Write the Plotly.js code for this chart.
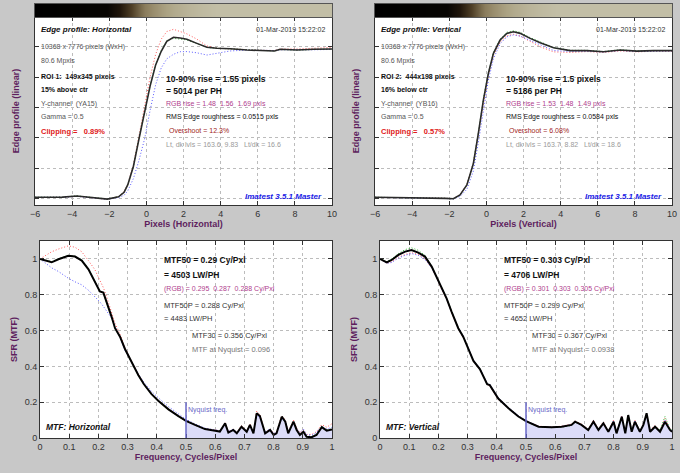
<!DOCTYPE html>
<html><head><meta charset="utf-8">
<script src="https://cdn.plot.ly/plotly-3.0.1.min.js"></script>
<style>html,body{margin:0;padding:0;background:#c8c8c8;}#chart{width:680px;height:473px;}</style>
</head><body><div id="chart"></div>
<script>
// ---------- Edge profile: Horizontal ----------
const edgeXH = [-6, -5, -4.5, -3.75, -3, -2.5, -2.1, -1.5, -1.2, -1.0, -0.7, -0.4, -0.1, 0.2, 0.5, 0.8, 1.1, 1.46, 1.82, 2.18, 2.72, 3.26, 3.8, 4.52, 5.42, 6.31, 6.9, 7.21, 8.11, 9.01, 10];
const edgeYH = [0.007, 0.006, 0.008, 0.015, 0.006, 0.0, -0.005, 0.01, 0.04, 0.09, 0.21, 0.39, 0.57, 0.74, 0.88, 0.97, 1.035, 1.062, 1.057, 1.049, 1.022, 0.996, 0.99, 0.987, 0.978, 0.974, 0.972, 0.983, 0.978, 0.983, 0.985];
const edgeRH = [0.005, 0.006, 0.007, 0.014, 0.005, 0.0, -0.006, 0.012, 0.045, 0.095, 0.22, 0.41, 0.61, 0.80, 0.95, 1.05, 1.10, 1.115, 1.10, 1.085, 1.05, 1.005, 0.99, 0.985, 0.98, 0.976, 0.975, 0.985, 0.985, 0.99, 0.995];
const edgeGH = [0.007, 0.006, 0.008, 0.016, 0.006, 0.001, -0.004, 0.012, 0.042, 0.092, 0.21, 0.395, 0.575, 0.745, 0.885, 0.975, 1.04, 1.055, 1.05, 1.045, 1.02, 0.995, 0.99, 0.986, 0.978, 0.973, 0.972, 0.982, 0.977, 0.982, 0.985];
const edgeBH = [0.006, 0.005, 0.007, 0.013, 0.005, -0.002, -0.006, 0.005, 0.02, 0.05, 0.13, 0.25, 0.39, 0.58, 0.75, 0.86, 0.92, 0.95, 0.967, 0.968, 0.96, 0.945, 0.956, 0.972, 0.978, 0.976, 0.975, 0.98, 0.978, 0.98, 0.982];

// ---------- Edge profile: Vertical ----------
const edgeXV = [-6, -5, -4, -3.2, -2.67, -2.2, -1.78, -1.42, -1.05, -0.7, -0.43, -0.16, 0.11, 0.38, 0.74, 1.1, 1.46, 1.82, 2.36, 2.9, 3.62, 4.52, 5.42, 6.31, 7.21, 8.11, 9.0, 10];
const edgeYV = [0.007, 0.006, 0.006, 0.004, 0.002, 0.0, -0.003, 0.022, 0.088, 0.23, 0.43, 0.65, 0.825, 0.956, 1.044, 1.088, 1.099, 1.088, 1.055, 1.026, 0.993, 0.974, 0.974, 0.967, 0.978, 0.971, 0.974, 0.974];
const edgeRV = [0.006, 0.006, 0.005, 0.004, 0.002, 0.0, -0.002, 0.025, 0.09, 0.235, 0.43, 0.645, 0.815, 0.945, 1.03, 1.072, 1.082, 1.07, 1.035, 1.0, 0.966, 0.962, 0.968, 0.962, 0.972, 0.966, 0.97, 0.97];
const edgeGV = [0.007, 0.006, 0.006, 0.004, 0.002, 0.0, -0.003, 0.022, 0.088, 0.232, 0.435, 0.655, 0.83, 0.96, 1.05, 1.095, 1.105, 1.095, 1.06, 1.03, 0.995, 0.976, 0.976, 0.968, 0.98, 0.972, 0.975, 0.975];
const edgeBV = [0.006, 0.005, 0.005, 0.003, 0.001, -0.001, -0.004, 0.012, 0.06, 0.18, 0.37, 0.58, 0.78, 0.92, 1.02, 1.065, 1.078, 1.07, 1.04, 1.01, 0.975, 0.968, 0.97, 0.965, 0.975, 0.968, 0.972, 0.972];

// ---------- Edge image strip (brightness across the edge) ----------
const stripX = [-6, -2.1, -1.5, -0.9, -0.3, 0.3, 0.9, 1.5, 2.2, 3.0, 3.8, 10];
const stripLevel = [0, 0.03, 0.12, 0.28, 0.45, 0.6, 0.72, 0.82, 0.9, 0.96, 1, 1];

// ---------- MTF: Horizontal ----------
const freqH = [0, 0.029, 0.04, 0.063, 0.097, 0.12, 0.143, 0.166, 0.188, 0.205, 0.217, 0.228, 0.245, 0.257, 0.274, 0.291, 0.314, 0.337, 0.356, 0.382, 0.405, 0.44, 0.474, 0.5, 0.531, 0.565, 0.6, 0.616, 0.634, 0.645, 0.662, 0.674, 0.69, 0.708, 0.719, 0.731, 0.742, 0.753, 0.771, 0.788, 0.8, 0.81, 0.828, 0.84, 0.85, 0.868, 0.879, 0.89, 0.902, 0.913, 0.93, 0.947, 0.965, 0.982, 1.0];
const mtfYH = [1.0, 0.985, 0.981, 0.998, 1.017, 1.013, 0.991, 0.942, 0.873, 0.818, 0.812, 0.762, 0.678, 0.613, 0.566, 0.497, 0.42, 0.35, 0.30, 0.245, 0.208, 0.16, 0.122, 0.096, 0.073, 0.05, 0.041, 0.036, 0.082, 0.03, 0.045, 0.026, 0.063, 0.035, 0.073, 0.026, 0.138, 0.123, 0.026, 0.045, 0.017, 0.026, 0.119, 0.091, 0.026, 0.091, 0.045, 0.017, 0.035, 0.007, 0.004, 0.017, 0.06, 0.041, 0.048];
const mtfRH = [1.0, 1.03, 1.04, 1.055, 1.073, 1.065, 1.04, 0.99, 0.94, 0.88, 0.84, 0.79, 0.70, 0.64, 0.58, 0.505, 0.425, 0.352, 0.30, 0.243, 0.205, 0.158, 0.12, 0.095, 0.072, 0.052, 0.045, 0.04, 0.085, 0.035, 0.05, 0.03, 0.07, 0.04, 0.078, 0.03, 0.15, 0.13, 0.03, 0.05, 0.025, 0.035, 0.125, 0.1, 0.035, 0.1, 0.055, 0.03, 0.045, 0.02, 0.02, 0.035, 0.075, 0.06, 0.08];
const mtfGH = [1.0, 0.99, 0.985, 1.0, 1.02, 1.015, 0.995, 0.945, 0.875, 0.82, 0.81, 0.76, 0.675, 0.61, 0.565, 0.495, 0.418, 0.348, 0.298, 0.243, 0.206, 0.158, 0.12, 0.095, 0.072, 0.05, 0.04, 0.035, 0.08, 0.03, 0.044, 0.027, 0.062, 0.036, 0.072, 0.028, 0.135, 0.12, 0.028, 0.046, 0.018, 0.028, 0.115, 0.09, 0.03, 0.088, 0.048, 0.02, 0.038, 0.01, 0.008, 0.02, 0.065, 0.045, 0.05];
const mtfBH = [1.0, 0.96, 0.95, 0.93, 0.892, 0.872, 0.855, 0.825, 0.79, 0.76, 0.735, 0.71, 0.67, 0.62, 0.56, 0.49, 0.42, 0.355, 0.31, 0.26, 0.225, 0.175, 0.135, 0.105, 0.078, 0.055, 0.045, 0.04, 0.075, 0.035, 0.05, 0.03, 0.06, 0.04, 0.07, 0.03, 0.13, 0.115, 0.035, 0.05, 0.025, 0.03, 0.11, 0.095, 0.035, 0.085, 0.05, 0.03, 0.05, 0.02, 0.015, 0.03, 0.065, 0.05, 0.06];

// ---------- MTF: Vertical ----------
const freqV = [0, 0.023, 0.04, 0.063, 0.086, 0.108, 0.131, 0.154, 0.177, 0.194, 0.211, 0.228, 0.245, 0.268, 0.285, 0.303, 0.32, 0.342, 0.36, 0.367, 0.376, 0.39, 0.405, 0.44, 0.474, 0.5, 0.52, 0.543, 0.588, 0.622, 0.656, 0.668, 0.69, 0.713, 0.731, 0.748, 0.765, 0.782, 0.8, 0.81, 0.828, 0.84, 0.85, 0.862, 0.873, 0.89, 0.902, 0.913, 0.925, 0.942, 0.959, 0.976, 0.993, 1.0];
const mtfYV = [1.0, 0.981, 0.994, 1.022, 1.041, 1.05, 1.035, 1.013, 0.957, 0.901, 0.836, 0.78, 0.706, 0.613, 0.566, 0.50, 0.43, 0.385, 0.33, 0.30, 0.295, 0.255, 0.22, 0.166, 0.12, 0.094, 0.078, 0.063, 0.06, 0.063, 0.073, 0.091, 0.073, 0.045, 0.091, 0.045, 0.082, 0.035, 0.091, 0.026, 0.119, 0.026, 0.128, 0.035, 0.091, 0.035, 0.073, 0.138, 0.035, 0.063, 0.035, 0.091, 0.045, 0.035];
const mtfRV = [1.0, 0.975, 0.985, 1.01, 1.025, 1.035, 1.025, 1.0, 0.95, 0.895, 0.83, 0.775, 0.70, 0.61, 0.56, 0.498, 0.428, 0.382, 0.328, 0.298, 0.29, 0.25, 0.215, 0.165, 0.12, 0.095, 0.08, 0.066, 0.062, 0.066, 0.078, 0.095, 0.078, 0.05, 0.1, 0.05, 0.09, 0.04, 0.1, 0.03, 0.125, 0.035, 0.11, 0.045, 0.1, 0.04, 0.08, 0.13, 0.045, 0.07, 0.04, 0.11, 0.05, 0.05];
const mtfGV = [1.0, 0.985, 1.0, 1.03, 1.052, 1.062, 1.048, 1.02, 0.96, 0.903, 0.838, 0.782, 0.708, 0.615, 0.568, 0.502, 0.432, 0.387, 0.332, 0.302, 0.297, 0.256, 0.221, 0.167, 0.121, 0.094, 0.077, 0.062, 0.058, 0.061, 0.07, 0.088, 0.07, 0.044, 0.088, 0.044, 0.08, 0.035, 0.088, 0.028, 0.115, 0.03, 0.125, 0.04, 0.09, 0.04, 0.07, 0.135, 0.04, 0.065, 0.045, 0.12, 0.05, 0.045];
const mtfBV = [1.0, 0.975, 0.98, 1.005, 1.02, 1.03, 1.02, 0.998, 0.95, 0.897, 0.833, 0.778, 0.705, 0.615, 0.57, 0.505, 0.435, 0.39, 0.335, 0.305, 0.3, 0.26, 0.225, 0.17, 0.125, 0.097, 0.08, 0.065, 0.06, 0.064, 0.075, 0.09, 0.075, 0.048, 0.09, 0.048, 0.085, 0.04, 0.095, 0.03, 0.12, 0.03, 0.12, 0.04, 0.095, 0.04, 0.075, 0.125, 0.04, 0.065, 0.04, 0.1, 0.05, 0.04];

const nyquistFreq = 0.5;
const nyquistMarkTop = 0.2;

// ---------- helpers ----------
const F = 'Liberation Sans, Arial, sans-serif';
const W = 680, H = 473;
const px = x => x / W, py = y => 1 - y / H;

function chan(x, y, color, xa, ya) {
  return {x: x, y: y, xaxis: xa, yaxis: ya, type: 'scatter', mode: 'lines',
          line: {color: color, width: 1, dash: '1px,2px'}, hoverinfo: 'skip'};
}
function main(x, y, xa, ya, color, w) {
  return {x: x, y: y, xaxis: xa, yaxis: ya, type: 'scatter', mode: 'lines',
          line: {color: color, width: w}, hoverinfo: 'skip'};
}
function nyqFill(f, v, xa, ya) {
  const fx = [], fy = [];
  f.forEach((q, i) => { if (q >= nyquistFreq) { fx.push(q); fy.push(v[i]); } });
  return {x: fx, y: fy, xaxis: xa, yaxis: ya, type: 'scatter', mode: 'lines',
          fill: 'tozeroy', fillcolor: '#dcdcf8', line: {width: 0, color: 'rgba(0,0,0,0)'}, hoverinfo: 'skip'};
}
function strip(xa, ya) {
  return {type: 'heatmap', x: stripX, y: [0, 1], z: [stripLevel, stripLevel], xaxis: xa, yaxis: ya,
          zmin: 0, zmax: 1, zsmooth: 'best', showscale: false, hoverinfo: 'skip',
          colorscale: [[0, '#000000'], [0.12, '#1e140a'], [0.3, '#4e3e26'], [0.5, '#8a7c5c'], [0.75, '#aba283'], [1, '#c2bea6']]};
}

const traces = [
  strip('x5', 'y5'), strip('x6', 'y6'),
  chan(edgeXH, edgeRH, '#ff5a5a', 'x', 'y'), chan(edgeXH, edgeGH, '#2fb52f', 'x', 'y'), chan(edgeXH, edgeBH, '#5a5aff', 'x', 'y'),
  main(edgeXH, edgeYH, 'x', 'y', '#2a2a2a', 1.6),
  chan(edgeXV, edgeRV, '#ff5a5a', 'x2', 'y2'), chan(edgeXV, edgeGV, '#2fb52f', 'x2', 'y2'), chan(edgeXV, edgeBV, '#5a5aff', 'x2', 'y2'),
  main(edgeXV, edgeYV, 'x2', 'y2', '#2a2a2a', 1.6),
  nyqFill(freqH, mtfYH, 'x3', 'y3'),
  chan(freqH, mtfRH, '#ff5a5a', 'x3', 'y3'), chan(freqH, mtfGH, '#2fb52f', 'x3', 'y3'), chan(freqH, mtfBH, '#5a5aff', 'x3', 'y3'),
  main(freqH, mtfYH, 'x3', 'y3', '#000000', 2),
  nyqFill(freqV, mtfYV, 'x4', 'y4'),
  chan(freqV, mtfRV, '#ff5a5a', 'x4', 'y4'), chan(freqV, mtfGV, '#2fb52f', 'x4', 'y4'), chan(freqV, mtfBV, '#5a5aff', 'x4', 'y4'),
  main(freqV, mtfYV, 'x4', 'y4', '#000000', 2)
];

function ax(extra) {
  return Object.assign({showline: true, mirror: 'allticks', linecolor: '#333', linewidth: 1,
    ticks: 'inside', ticklen: 4, tickcolor: '#333', showgrid: true, gridcolor: '#bcbcbc',
    griddash: 'dot', gridwidth: 1, zeroline: false, fixedrange: true,
    tickfont: {size: 9, color: '#333', family: F}}, extra);
}
const purple = '#5e1f5e';
function ttl(t, st) { return {text: '<b>' + t + '</b>', font: {size: 9, color: purple, family: F}, standoff: st}; }

const topY = [py(205), py(17)], stripY = [py(17), py(4)], botY = [py(438), py(241)];
const leftTop = [px(35), px(332)], rightTop = [px(375), px(672)];
const leftBot = [px(40), px(332)], rightBot = [px(380), px(672)];

const layout = {
  width: W, height: H, margin: {l: 0, r: 0, t: 0, b: 0},
  paper_bgcolor: '#c8c8c8', plot_bgcolor: '#ffffff', showlegend: false,
  font: {family: F},
  xaxis: ax({domain: leftTop, anchor: 'y', range: [-6, 10], tick0: -6, dtick: 2, title: ttl('Pixels (Horizontal)', 2)}),
  yaxis: ax({domain: topY, anchor: 'x', range: [-0.044, 1.196], tick0: 0, dtick: 0.2, showticklabels: false, title: ttl('Edge profile (linear)', 12)}),
  xaxis2: ax({domain: rightTop, anchor: 'y2', range: [-6, 10], tick0: -6, dtick: 2, title: ttl('Pixels (Vertical)', 2)}),
  yaxis2: ax({domain: topY, anchor: 'x2', range: [-0.044, 1.196], tick0: 0, dtick: 0.2, showticklabels: false, title: ttl('Edge profile (linear)', 12)}),
  xaxis3: ax({domain: leftBot, anchor: 'y3', range: [0, 1], tick0: 0, dtick: 0.1, title: ttl('Frequency, Cycles/Pixel', 1)}),
  yaxis3: ax({domain: botY, anchor: 'x3', range: [0, 1.1], tick0: 0, dtick: 0.2, title: ttl('SFR (MTF)', 5)}),
  xaxis4: ax({domain: rightBot, anchor: 'y4', range: [0, 1], tick0: 0, dtick: 0.1, title: ttl('Frequency, Cycles/Pixel', 1)}),
  yaxis4: ax({domain: botY, anchor: 'x4', range: [0, 1.1], tick0: 0, dtick: 0.2, title: ttl('SFR (MTF)', 5)}),
  xaxis5: {domain: leftTop, anchor: 'y5', range: [-6, 10], showticklabels: false, ticks: '', showgrid: false, zeroline: false, showline: true, mirror: true, linecolor: '#555', fixedrange: true},
  yaxis5: {domain: stripY, anchor: 'x5', range: [0, 1], showticklabels: false, ticks: '', showgrid: false, zeroline: false, showline: true, mirror: true, linecolor: '#555', fixedrange: true},
  xaxis6: {domain: rightTop, anchor: 'y6', range: [-6, 10], showticklabels: false, ticks: '', showgrid: false, zeroline: false, showline: true, mirror: true, linecolor: '#555', fixedrange: true},
  yaxis6: {domain: stripY, anchor: 'x6', range: [0, 1], showticklabels: false, ticks: '', showgrid: false, zeroline: false, showline: true, mirror: true, linecolor: '#555', fixedrange: true},
  shapes: [
    {type: 'line', xref: 'x3', yref: 'y3', x0: nyquistFreq, x1: nyquistFreq, y0: 0, y1: nyquistMarkTop, line: {color: '#6868c8', width: 1.5}},
    {type: 'line', xref: 'x4', yref: 'y4', x0: nyquistFreq, x1: nyquistFreq, y0: 0, y1: nyquistMarkTop, line: {color: '#6868c8', width: 1.5}}
  ],
  annotations: []
};

const S = '\u00a0';
function note(x, y, text, size, color, anchor) {
  layout.annotations.push({xref: 'paper', yref: 'paper', x: px(x), y: py(y), xanchor: anchor || 'left', yanchor: 'middle',
    showarrow: false, text: text, borderpad: 0, font: {size: size, color: color, family: F}});
}
const magenta = '#b0408e', grey = '#555555';

function edgePanel(dx, p) {
  note(40 + dx, 29.5, '<b><i>' + p.title + '</i></b>', 8, '#111');
  note(326 + dx, 29.5, '01-Mar-2019 15:22:02', 7, '#333', 'right');
  note(40 + dx, 47, '10368 x 7776 pixels (WxH)', 7, grey);
  note(40 + dx, 61, '80.6 Mpxls', 7, grey);
  note(40 + dx, 77.5, '<b>' + p.roi + '</b>', 7, '#111');
  note(40 + dx, 89.5, '<b>' + p.loc + '</b>', 7, '#111');
  note(40 + dx, 104, p.chan, 7, grey);
  note(40 + dx, 116, 'Gamma = 0.5', 7, grey);
  note(40 + dx, 131.5, '<b>' + p.clip + '</b>', 7.5, '#e01818');
  note(165 + dx, 78.5, '<b>' + p.rise + '</b>', 8.5, '#111');
  note(165 + dx, 90.5, '<b>' + p.ph + '</b>', 8.5, '#111');
  note(165 + dx, 104.5, p.rgb, 7, magenta);
  note(165 + dx, 117, p.rms, 7, '#111');
  note(168 + dx, 130.5, p.over, 7, '#a01c1c');
  note(165 + dx, 145, p.lvls, 7, '#9a9a9a');
  note(323 + dx, 196.5, '<b><i>Imatest 3.5.1 Master</i></b>', 8, '#1a1ae6', 'right');
}
edgePanel(0, {title: 'Edge profile: Horizontal', roi: 'ROI 1:' + S + ' 149x345 pixels', loc: '15% above ctr',
  chan: 'Y-channel' + S + ' (YA15)', clip: 'Clipping =' + S + S + ' 0.89%', rise: '10-90% rise = 1.55 pixels', ph: '= 5014 per PH',
  rgb: 'RGB rise = 1.48' + S + ' 1.56' + S + ' 1.69 pxls', rms: 'RMS Edge roughness = 0.0515 pxls', over: 'Overshoot = 12.3%',
  lvls: 'Lt, dk lvls = 163.6, 9.83' + S + S + ' Lt/dk = 16.6'});
edgePanel(340, {title: 'Edge profile: Vertical', roi: 'ROI 2:' + S + ' 444x198 pixels', loc: '16% below ctr',
  chan: 'Y-channel' + S + ' (YB16)', clip: 'Clipping =' + S + S + ' 0.57%', rise: '10-90% rise = 1.5 pixels', ph: '= 5186 per PH',
  rgb: 'RGB rise = 1.53' + S + ' 1.48' + S + ' 1.49 pxls', rms: 'RMS Edge roughness = 0.0584 pxls', over: 'Overshoot = 6.08%',
  lvls: 'Lt, dk lvls = 163.7, 8.82' + S + S + ' Lt/dk = 18.6'});

function mtfPanel(dx, p) {
  note(163 + dx, 260, '<b>' + p.m50 + '</b>', 8.5, '#111');
  note(163 + dx, 274.5, '<b>' + p.lw + '</b>', 8.5, '#111');
  note(163 + dx, 288.5, p.rgb, 7, magenta);
  note(163 + dx, 305.5, p.m50p, 7.5, '#333');
  note(163 + dx, 318.5, p.lwp, 7.5, '#333');
  note(191 + dx, 335, p.m30, 7.5, '#333');
  note(191 + dx, 349, p.nyq, 7.5, '#777');
  note(45 + dx, 427, '<b><i>' + p.title + '</i></b>', 8.5, '#111');
  note(187 + dx, 409.5, 'Nyquist freq.', 7, '#6868c8');
}
mtfPanel(0, {m50: 'MTF50 = 0.29 Cy/Pxl', lw: '= 4503 LW/PH', rgb: '(RGB) = 0.295' + S + ' 0.287' + S + ' 0.288 Cy/Pxl',
  m50p: 'MTF50P = 0.288 Cy/Pxl', lwp: '= 4483 LW/PH', m30: 'MTF30 = 0.356 Cy/Pxl', nyq: 'MTF at Nyquist = 0.096', title: 'MTF: Horizontal'});
mtfPanel(340, {m50: 'MTF50 = 0.303 Cy/Pxl', lw: '= 4706 LW/PH', rgb: '(RGB) = 0.301' + S + ' 0.303' + S + ' 0.305 Cy/Pxl',
  m50p: 'MTF50P = 0.299 Cy/Pxl', lwp: '= 4652 LW/PH', m30: 'MTF30 = 0.367 Cy/Pxl', nyq: 'MTF at Nyquist = 0.0938', title: 'MTF: Vertical'});

Plotly.newPlot('chart', traces, layout, {staticPlot: true, displayModeBar: false});
</script></body></html>
